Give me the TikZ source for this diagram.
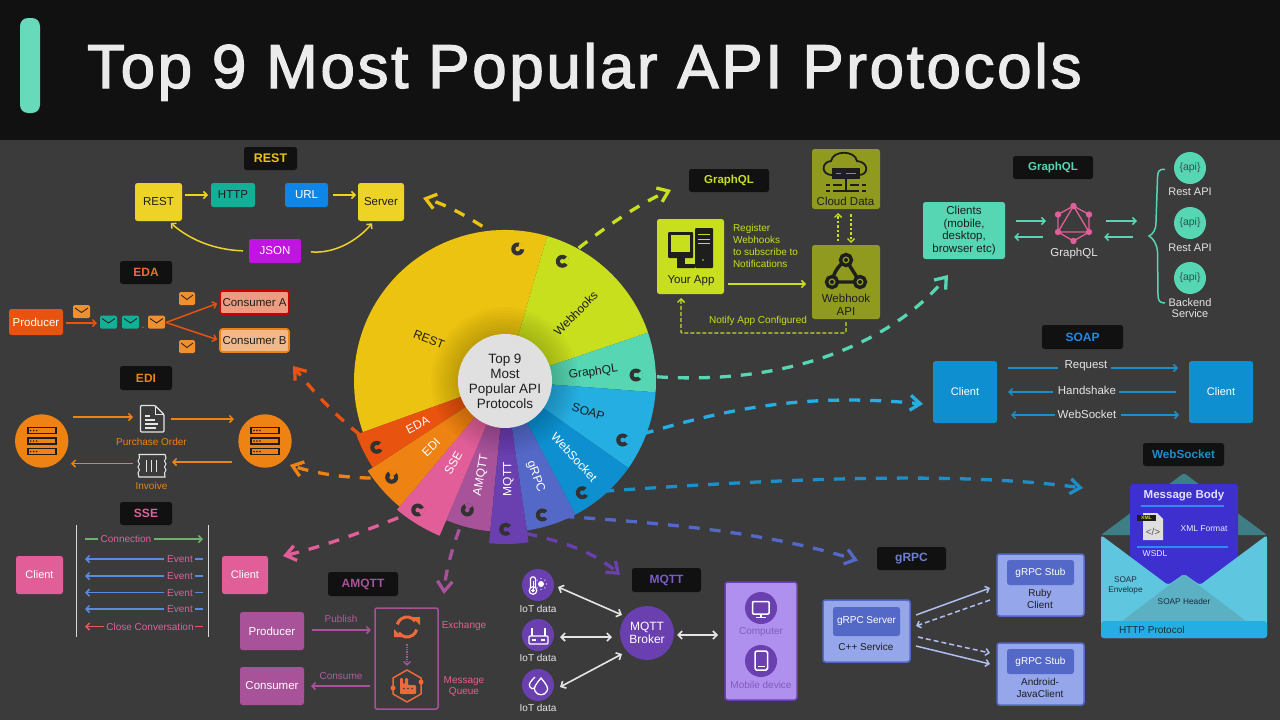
\documentclass[tikz,border=0pt]{standalone}
\usepackage{fontspec}
\setmainfont{Liberation Sans}
\newfontfamily\titlefont[FakeBold=2,LetterSpace=4.2]{Liberation Sans}
\usetikzlibrary{arrows.meta,calc}
\definecolor{bgc}{HTML}{3B3B3B}\definecolor{blk}{HTML}{111111}\definecolor{dk}{HTML}{1E1E1E}
\definecolor{restc}{HTML}{EDC311}\definecolor{restb}{HTML}{EDD325}
\definecolor{hookc}{HTML}{C8DF1E}\definecolor{hookd}{HTML}{8F9A1E}
\definecolor{gqlc}{HTML}{56D6B3}\definecolor{soapc}{HTML}{25AEE2}
\definecolor{wsc}{HTML}{0E90D0}\definecolor{wst}{HTML}{1E8EC8}
\definecolor{grpc}{HTML}{5468C8}\definecolor{grpl}{HTML}{95A6EA}\definecolor{grpa}{HTML}{B0BEF0}
\definecolor{mqc}{HTML}{6A3FB0}\definecolor{mql}{HTML}{B090EE}\definecolor{mqt}{HTML}{7B5BC8}
\definecolor{amc}{HTML}{A8529A}\definecolor{ssec}{HTML}{E25E98}\definecolor{sset}{HTML}{D8649A}
\definecolor{edic}{HTML}{EE8212}\definecolor{edac}{HTML}{E8530F}\definecolor{envc}{HTML}{EE9030}
\definecolor{tealc}{HTML}{12B096}\definecolor{amo}{HTML}{EE6A3A}
\definecolor{urlc}{HTML}{0E86E8}\definecolor{jsonc}{HTML}{C015E0}\definecolor{conac}{HTML}{EE9B80}\definecolor{conbc}{HTML}{F0B98C}
\definecolor{bluea}{HTML}{5A8CDD}\definecolor{greena}{HTML}{6DB36C}\definecolor{reda}{HTML}{E05A60}
\definecolor{envb}{HTML}{5EC6DE}\definecolor{envh}{HTML}{5CB0C4}\definecolor{envf}{HTML}{3E7F86}\definecolor{cardc}{HTML}{3D30CF}\definecolor{cardl}{HTML}{2E8CF0}\definecolor{envt}{HTML}{1C2C3C}
\newcommand\fs[2]{\fontsize{#1}{#2}\selectfont}
\newcommand\mybox[7]{\node[#1,minimum width={(#4-#2)*1pt},minimum height={(#5-#3)*1pt}] (#6) at ({(#2+#4)/2},{(#3+#5)/2}) {#7};}
\newcommand\envel[4]{\fill[#4,rounded corners=1.5pt] (#1,#2) rectangle ++(#3,13);\draw[dk,line width=.8pt] (#1+2,#2+3) -- (#1+#3/2,#2+7.5) -- (#1+#3-2,#2+3);}
\newcommand\sect[4]{\fill[#4] (0,0) -- (#1:#3pt) arc[start angle=#1,end angle=#2,radius=#3pt] -- cycle;}
\newcommand\pac[4]{\begin{scope}[shift={(#1,#2)},y=1pt]\fill[bgc!85!black] (0,0) circle (6.5pt);\fill[#4] (0,0) -- ({#3-38}:7pt) arc[start angle={#3-38},end angle={#3+38},radius=7pt] -- cycle;\fill[#4] (0,0) circle (2.3pt);\end{scope}}
\newcommand\rack[2]{\foreach \q in {0,10.5,21}{\draw[dk,line width=1.7pt,fill=edic] (#1-14,#2-13.5+\q) rectangle ++(28,6);\foreach \d in {3,6,9}{\fill[dk] (#1-14+\d,#2-10.5+\q) circle (.8pt);}}}
\tikzset{
 box/.style={rectangle,rounded corners=2.5pt,inner sep=0pt,outer sep=0pt,align=center},
 tagbox/.style={box,fill=blk,font=\fs{12}{14}\bfseries},
 txt/.style={inner sep=0pt,outer sep=0pt,align=center},
 wl/.style={txt,font=\fs{12}{13}},
 barb/.style={line width=1.5pt,-{Straight Barb[length=3.5pt,width=7pt]}},
 dbarb/.style={line width=1.6pt,{Straight Barb[length=4pt,width=8pt]}-{Straight Barb[length=4pt,width=8pt]}},
 dashgo/.style={draw=#1,line width=3.3pt,dash pattern=on 11pt off 10pt,-{Straight Barb[length=10pt,width=15pt]}},
 sectl/.style={txt,font=\fs{12}{13}},
}
\begin{document}
\begin{tikzpicture}[x=1pt,y=-1pt]
\useasboundingbox (0,0) rectangle (1280,720);
\fill[bgc] (0,0) rectangle (1280,720);
\fill[blk] (0,0) rectangle (1280,140);
\fill[gqlc!90!white,rounded corners=8pt] (20,18) rectangle (40,113);
\node[txt,anchor=base west,text=white!92!black,font=\titlefont\fs{62}{70}] (title) at (87,88) {Top 9 Most Popular API Protocols};

% anchors of the wheel's markers
\coordinate (pREST) at (517.7,249);\coordinate (pHOOK) at (562.3,261.3);\coordinate (pGQL) at (636,375);
\coordinate (pSOAP) at (622.7,440);\coordinate (pWS) at (582.3,492.7);\coordinate (pGR) at (542.3,515);
\coordinate (pMQ) at (505.7,529.3);\coordinate (pAM) at (467.3,510);\coordinate (pSSE) at (417.7,510);
\coordinate (pEDI) at (391.7,477.3);\coordinate (pEDA) at (376.7,447.3);

% ---------- REST panel
\mybox{tagbox,text=restc,font=\fs{12.5}{14}\bfseries}{244}{147}{297}{170}{tagrest}{REST}
\mybox{box,fill=restb,text=dk,font=\fs{11.5}{13}}{135}{183}{182}{221}{rest}{REST}
\mybox{box,fill=tealc,text=dk,font=\fs{11.5}{13}}{211}{183}{255}{207}{http}{HTTP}
\mybox{box,fill=urlc,text=white,font=\fs{11.5}{13}}{285}{183}{328}{207}{url}{URL}
\mybox{box,fill=restb,text=dk,font=\fs{11.5}{13}}{358}{183}{404}{221}{server}{Server}
\mybox{box,fill=jsonc,text=white,font=\fs{11.5}{13}}{249}{239}{301}{263}{json}{JSON}
\draw[barb,draw=restb,shorten <=3pt,shorten >=3pt] (rest.east |- http.west) -- (http.west);
\draw[barb,draw=restb,shorten <=5pt,shorten >=2pt] (url.east) -- (server.west |- url.east);
\draw[barb,draw=restb,shorten <=6pt,shorten >=3pt] (json.west) .. controls (215,250) and (190,240) .. ([xshift=10pt]rest.south);
\draw[barb,draw=restb,shorten <=10pt,shorten >=3pt] (json.east) .. controls (335,254) and (358,240) .. ([xshift=-7pt]server.south);

% ---------- EDA panel
\mybox{tagbox,text=edac!85!white}{120}{261}{172}{284}{tageda}{EDA}
\mybox{box,fill=edac,text=white,font=\fs{11.5}{13}}{9}{309}{63}{335}{producer}{Producer}
\mybox{box,draw=red!80!black,line width=1.6pt,fill=conac,text=dk,font=\fs{11.5}{13}}{220}{291}{289}{314}{consA}{Consumer A}
\mybox{box,draw=edic,line width=1.6pt,fill=conbc,text=dk,font=\fs{11.5}{13}}{220}{329}{289}{352}{consB}{Consumer B}
\envel{73}{305}{17}{envc}\envel{100}{315.500}{17}{tealc}\envel{122}{315.500}{17}{tealc}\envel{148}{315.500}{17}{envc}
\envel{179}{292}{16}{envc}\envel{179}{340}{16}{envc}
\coordinate (edaout) at (97,323);\coordinate (edafork) at (166,322.5);
\fill[envc] (143,327.300) circle (.6pt);
\draw[barb,draw=edac] ([xshift=3pt]producer.east |- edaout) -- (edaout);
\draw[barb,draw=edac,shorten >=3pt] (edafork) -- (consA.west);
\draw[barb,draw=edac,shorten >=3pt] (edafork) -- (consB.west);

% ---------- EDI panel
\mybox{tagbox,text=edic}{120}{366}{172}{390}{tagedi}{EDI}
\node[circle,fill=edic,minimum size=53.400pt,inner sep=0pt] (ediL) at (41.700,441) {};
\node[circle,fill=edic,minimum size=53.400pt,inner sep=0pt] (ediR) at (265,441) {};
\rack{41.7}{441}\rack{265}{441}
\node[inner sep=0pt,minimum width=24pt,minimum height=27pt] (doc) at (152,418.500) {};
\draw[white!90!black,line width=1.2pt,fill=bgc,rounded corners=1pt] (140.500,405.500) -- (155,405.500) -- (164,414.500) -- (164,432) -- (140.500,432) -- cycle;
\draw[white!90!black,line width=1pt] (155,405.500) -- (155,414.500) -- (164,414.500);
\draw[white!90!black,line width=1.2pt] (145,416) -- (150,416) (145,420) -- (155,420) (145,424) -- (158,424) (145,428) -- (156,428);
\node[inner sep=0pt,minimum width=28pt,minimum height=23pt] (inv) at (152,465.500) {};
\draw[white!90!black,line width=1.1pt,fill=bgc] (139,454.500) -- (165,454.500) -- (166,458) -- (164.500,461) -- (166,464) -- (164.500,467) -- (166,470) -- (164.500,473) -- (165,477) -- (139,477) -- (138,473) -- (139.500,470) -- (138,467) -- (139.500,464) -- (138,461) -- (139.500,458) -- cycle;
\draw[white!90!black,line width=1.3pt] (146.500,460) -- (146.500,472) (151.500,460) -- (151.500,472) (156.500,460) -- (156.500,472);
\node[txt,text=edic,font=\fs{10}{11}] (po) at (151.500,442) {Purchase Order};
\node[txt,text=edic,font=\fs{10}{11}] (invt) at (151.500,485.500) {Invoive};
\coordinate (e1a) at (73,417);\coordinate (e1b) at (133,417);\coordinate (e2a) at (171,419);\coordinate (e2b) at (234,419);
\coordinate (e3a) at (133,463.500);\coordinate (e3b) at (71,463.500);\coordinate (e4a) at (232,462);\coordinate (e4b) at (172,462);
\draw[barb,draw=edic] (e1a) -- (e1b);\draw[barb,draw=edic] (e2a) -- (e2b);\draw[barb,draw=edic] (e3a) -- (e3b);\draw[barb,draw=edic] (e4a) -- (e4b);

% ---------- SSE panel
\mybox{tagbox,text=sset}{120}{502}{172}{525}{tagsse}{SSE}
\mybox{box,fill=ssec,text=white,font=\fs{11}{13}}{16}{556}{63}{594}{sseL}{Client}
\mybox{box,fill=ssec,text=white,font=\fs{11}{13}}{222}{556}{268}{594}{sseR}{Client}
\coordinate (vl1) at (76.500,525);\coordinate (vl2) at (76.500,637);\coordinate (vr1) at (208.500,525);\coordinate (vr2) at (208.500,637);
\draw[white!85!black,line width=1pt] (vl1) -- (vl2);\draw[white!85!black,line width=1pt] (vr1) -- (vr2);
\node[txt,text=sset,font=\fs{10}{11}] (sconn) at (126,539) {Connection};
\coordinate (sc1) at (85,539);\coordinate (sc2) at (203,539);
\draw[line width=1.4pt,draw=greena] (sc1) -- ([xshift=-3pt]sconn.west);
\draw[barb,draw=greena] ([xshift=3pt]sconn.east) -- (sc2);
\foreach \nn/\yy in {a/559,b/576,c/592.7,d/609}{
 \node[txt,text=sset,font=\fs{10}{11}] (sev\nn) at (180,\yy) {Event};
 \coordinate (sl\nn) at (85,\yy);\coordinate (sr\nn) at (203,\yy);
 \draw[barb,draw=bluea,shorten <=3pt] (sev\nn.west) -- (sl\nn);
 \draw[line width=1.4pt,draw=bluea,shorten <=2pt] (sev\nn.east) -- (sr\nn);
}
\node[txt,text=sset,font=\fs{10}{11}] (sclose) at (150,626.500) {Close Conversation};
\coordinate (slc) at (85,626.500);\coordinate (src) at (203,626.500);
\draw[barb,draw=reda,shorten <=2pt] (sclose.west) -- (slc);
\draw[line width=1.4pt,draw=reda,shorten <=1pt] (sclose.east) -- (src);

% ---------- AMQTT panel
\mybox{tagbox,text=amc}{328}{572}{398}{596}{tagam}{AMQTT}
\mybox{box,fill=amc,text=white,font=\fs{11.5}{13}}{240}{612}{304}{650}{amprod}{Producer}
\mybox{box,fill=amc,text=white,font=\fs{11.5}{13}}{240}{667}{304}{705}{amcons}{Consumer}
\mybox{box,draw=amc,line width=1.5pt,rounded corners=2pt}{375}{608}{438}{709}{amframe}{}
\node[txt,text=amc!90!pink,font=\fs{10}{11}] (pubt) at (341,619) {Publish};
\node[txt,text=amc!90!pink,font=\fs{10}{11}] (const) at (341,676) {Consume};
\node[txt,text=ssec!85!amo,font=\fs{10}{11}] (exch) at (464,626) {Exchange};
\node[txt,text=ssec!85!amo,font=\fs{10}{11.500}] (mq) at (464,686.500) {Message\\Queue};
\coordinate (ap1) at (312,630);\coordinate (ap2) at (371,630);\coordinate (ac1) at (370,686);\coordinate (ac2) at (311,686);
\draw[barb,draw=amc] (ap1) -- (ap2);\draw[barb,draw=amc] (ac1) -- (ac2);
\begin{scope}[shift={(407,627)},y=1pt]
 \draw[amo,line width=3pt] (35:10pt) arc[start angle=35,end angle=165,radius=10pt];
 \draw[amo,line width=3pt] (215:10pt) arc[start angle=215,end angle=345,radius=10pt];
 \fill[amo] (5,10) -- (13,10) -- (13,2) -- cycle;
 \fill[amo] (-5,-10) -- (-13,-10) -- (-13,-2) -- cycle;
\end{scope}
\node[inner sep=0pt,minimum size=2pt] (exicon) at (407,643) {};
\node[inner sep=0pt,minimum size=2pt] (hexicon) at (407,667) {};
\draw[line width=1.4pt,draw=amc,densely dotted,-{Straight Barb[length=3.5pt,width=7pt]}] (exicon) -- (hexicon);
\draw[amo,line width=1.5pt,line join=round] (407,670) -- (421,678) -- (421,694) -- (407,702) -- (393,694) -- (393,678) -- cycle;
\fill[amo] (393,688) circle (2.5pt) (421,682) circle (2.5pt);
\fill[amo,rounded corners=1pt] (400,694) -- (400,678) -- (403,678) -- (403,684) -- (405,684) -- (405,678) -- (408,678) -- (408,685) -- (416,685) -- (416,694) -- cycle;
\fill[bgc] (404,688.500) circle (.9pt) (408,688.500) circle (.9pt) (412,688.500) circle (.9pt);

% ---------- MQTT panel
\mybox{tagbox,text=mqt}{632}{568}{701}{592}{tagmq}{MQTT}
\foreach \nn/\yy in {a/585,b/635,c/685}{\node[circle,fill=mqc,minimum size=32pt,inner sep=0pt] (iot\nn) at (538,\yy) {};}
\node[wl,text=white!90!black,font=\fs{10}{11}] (iota) at (538,609) {IoT data};
\node[wl,text=white!90!black,font=\fs{10}{11}] (iotb) at (538,658) {IoT data};
\node[wl,text=white!90!black,font=\fs{10}{11}] (iotc) at (538,708) {IoT data};
\node[circle,fill=mqc,minimum size=54pt,inner sep=0pt,text=white,align=center,font=\fs{12}{13}] (broker) at (647,633) {MQTT\\Broker};
\mybox{box,draw=mqc,line width=1.5pt,fill=mql}{725}{582}{797}{700}{devices}{}
\node[circle,fill=mqc,minimum size=32pt,inner sep=0pt] (compc) at (761,608) {};
\node[circle,fill=mqc,minimum size=32pt,inner sep=0pt] (mobc) at (761,661) {};
\node[txt,text=mqc!85!white,font=\fs{10}{11}] (compt) at (761,632) {Computer};
\node[txt,text=mqc!85!white,font=\fs{10}{11}] (mobt) at (761,684.500) {Mobile device};
\coordinate (m1) at (558,587);\coordinate (m2) at (622,615);\coordinate (m3) at (560,637);\coordinate (m4) at (612,637);
\coordinate (m5) at (560,687);\coordinate (m6) at (622,654);\coordinate (m7) at (677,635);\coordinate (m8) at (718,635);
\draw[dbarb,draw=white!90!black] (m1) -- (m2);\draw[dbarb,draw=white!90!black] (m3) -- (m4);
\draw[dbarb,draw=white!90!black] (m5) -- (m6);\draw[dbarb,draw=white!90!black] (m7) -- (m8);
% iot icons
\draw[white,line width=1.2pt,fill=mqc,rounded corners=1.5pt] (530.500,587) -- (530.500,577) -- (535.500,577) -- (535.500,587);
\draw[white,line width=1.2pt,fill=mqc] (533,590.500) circle (3.800pt);
\fill[white] (533,590.500) circle (1.800pt);\draw[white,line width=1pt] (533,581) -- (533,589);
\fill[white] (541,584) circle (3pt);
\foreach \a in {0,45,...,315}{\fill[white] ($(541,584)+(\a:5.5pt)$) circle (.7pt);}
\draw[white,line width=1.3pt,rounded corners=1pt] (529,636) rectangle (548,644);
\draw[white,line width=1.3pt] (532,636) -- (532,628) (545,636) -- (545,628);
\draw[white,line width=1.1pt] (532,640) -- (536,640) (541,640) -- (545,640);
\draw[white,line width=1.3pt] (541,678) .. controls (546,684) and (549,688) .. (547,691) .. controls (545,696) and (537,696) .. (535,691) .. controls (533,688) and (536,684) .. (541,678) -- cycle;
\draw[white,line width=1.3pt] (535,677) .. controls (531,681) and (528,684) .. (530,687) .. controls (531,689) and (533,689) .. (534.500,688);
\draw[white,line width=1.5pt,rounded corners=1pt] (752.500,601.500) rectangle (769,614);
\draw[white,line width=1.5pt] (761,614) -- (761,617) (756,617.500) -- (766,617.500);
\draw[white,line width=1.5pt,rounded corners=1.5pt] (755,651) rectangle (767.500,670);
\draw[white,line width=1pt] (758,666.500) -- (764.500,666.500);

% ---------- gRPC panel
\mybox{tagbox,text=grpc!85!white}{877}{547}{946}{570}{taggr}{gRPC}
\mybox{box,fill=grpl,draw=grpc,line width=1.5pt}{823}{600}{910}{662}{grS}{}
\mybox{box,fill=grpl,draw=grpc,line width=1.5pt}{997}{554}{1084}{616}{grA}{}
\mybox{box,fill=grpl,draw=grpc,line width=1.5pt}{997}{643}{1084}{705}{grB}{}
\mybox{box,fill=grpc,text=white,font=\fs{10}{12}}{833}{607}{900}{636}{grSi}{gRPC Server}
\mybox{box,fill=grpc,text=white,font=\fs{10}{12}}{1007}{560}{1074}{585}{grAi}{gRPC Stub}
\mybox{box,fill=grpc,text=white,font=\fs{10}{12}}{1007}{649}{1074}{674}{grBi}{gRPC Stub}
\node[txt,text=dk,font=\fs{10}{11}] (grSt) at (866,647) {C++ Service};
\node[txt,text=dk,font=\fs{10}{12}] (grAt) at (1040,599) {Ruby\\Client};
\node[txt,text=dk,font=\fs{10}{12}] (grBt) at (1040,688) {Android-\\JavaClient};
\coordinate (g1) at (916,615);\coordinate (g2) at (990,588);\coordinate (g3) at (990,600);\coordinate (g4) at (916,626);
\coordinate (g5) at (918,637);\coordinate (g6) at (990,653);\coordinate (g7) at (916,646);\coordinate (g8) at (990,664);
\draw[barb,draw=grpa] (g1) -- (g2);\draw[barb,draw=grpa,dash pattern=on 5pt off 3pt] (g3) -- (g4);
\draw[barb,draw=grpa,dash pattern=on 5pt off 3pt] (g5) -- (g6);\draw[barb,draw=grpa] (g7) -- (g8);

% ---------- Webhooks panel
\mybox{tagbox,text=hookc,font=\fs{11.5}{14}\bfseries}{689}{169}{769}{192}{taghook}{GraphQL}
\mybox{box,fill=hookc}{657}{219}{724}{294}{app}{}
\mybox{box,fill=hookd}{812}{149}{880}{209}{cloud}{}
\mybox{box,fill=hookd}{812}{245}{880}{319}{hook}{}
\node[txt,text=dk,font=\fs{11.5}{13}] (appt) at (691,281) {Your App};
\node[txt,text=dk,font=\fs{11.5}{13}] (cloudt) at (845.500,201) {Cloud Data};
\node[txt,text=dk,font=\fs{11.5}{12.500}] (hookt) at (846,305) {Webhook\\API};
\node[txt,anchor=north west,text=hookc,align=left,font=\fs{10}{12}] (regt) at (733,224) {Register\\Webhooks\\to subscribe to\\Notifications};
\node[txt,text=hookc,font=\fs{10}{11}] (notif) at (758,321) {Notify App Configured};
\draw[barb,draw=hookc,shorten <=4pt,shorten >=6pt] (app.east |- 0,284) -- (hook.west |- 0,284);
\draw[line width=1.4pt,draw=hookc,dash pattern=on 4pt off 2pt,-{Straight Barb[length=3.5pt,width=7pt]},shorten <=3pt,shorten >=4pt,rounded corners=1pt] (hook.south |- 0,319) -- ++(0,14) -| (app.south -| 681,0);
\draw[line width=1.4pt,draw=hookc,dash pattern=on 2.5pt off 2pt,-{Straight Barb[length=3.5pt,width=7pt]},shorten <=4pt,shorten >=4pt] (838,245) -- (838,209);
\draw[line width=1.4pt,draw=hookc,dash pattern=on 2.5pt off 2pt,-{Straight Barb[length=3.5pt,width=7pt]},shorten <=5pt,shorten >=2pt] (851,209) -- (851,245);
% computer icon
\fill[dk,rounded corners=1pt] (668,232) rectangle (693,258);\fill[hookc] (671,235) rectangle (690,252);
\fill[dk] (677,258) rectangle (685,264);\fill[dk,rounded corners=.6pt] (677,264) rectangle (695,268);
\fill[dk,rounded corners=1pt] (695,228) rectangle (713,268);
\draw[hookc,line width=1pt] (698,234.500) -- (710,234.500) (698,239) -- (710,239) (698,243.500) -- (710,243.500);
\fill[hookc] (703,260) circle (.8pt);
% cloud icon
\draw[dk,line width=1.8pt,line cap=round] (832,175) .. controls (821,175) and (821,162) .. (831,161) .. controls (833,150) and (855,150) .. (857,161) .. controls (869,162) and (869,175) .. (859,175);
\fill[dk] (832,168) rectangle (860,179);\draw[hookd,line width=1.2pt] (836,173.500) -- (841,173.500) (846,173.500) -- (856,173.500);
\draw[dk,line width=1.6pt] (846,179) -- (846,190) (826,185) -- (830,185) (833,185) -- (842,185) (850,185) -- (859,185) (862,185) -- (866,185) (826,191) -- (830,191) (833,191) -- (859,191) (862,191) -- (866,191);
% webhook icon
\draw[dk,line width=3.4pt] (846,260) -- (860,282) -- (832,282);
\draw[dk,line width=3.4pt] (846,260) .. controls (838,266) and (834,272) .. (832,282);
\foreach \px/\py in {846/260,832/282,860/282}{\draw[dk,line width=3.4pt,fill=hookd] (\px,\py) circle (5.5pt);\fill[dk] (\px,\py) circle (2pt);}

% ---------- GraphQL panel
\mybox{tagbox,text=gqlc,font=\fs{11.5}{14}\bfseries}{1013}{156}{1093}{179}{taggql}{GraphQL}
\mybox{box,fill=gqlc,text=dk,font=\fs{11.5}{12.800}}{923}{202}{1005}{259}{clients}{Clients\\(mobile,\\desktop,\\browser etc)}
\node[inner sep=0pt,minimum width=32pt,minimum height=36pt] (gqlogo) at (1073.500,223.500) {};
\node[txt,text=white!90!black,font=\fs{11.5}{13}] (gqlt) at (1074,254) {GraphQL};
\draw[ssec,line width=1.3pt,line join=round] (1073.500,206) -- (1089,214.500) -- (1089,232) -- (1073.500,241) -- (1058,232) -- (1058,214.500) -- cycle (1073.500,206) -- (1058,232) -- (1089,232) -- cycle;
\foreach \px/\py in {1073.5/206,1089/214.5,1089/232,1073.5/241,1058/232,1058/214.5}{\fill[ssec] (\px,\py) circle (3.200pt);}
\coordinate (q1) at (1016,221);\coordinate (q2) at (1046,221);\coordinate (q3) at (1043,237);\coordinate (q4) at (1014,237);
\coordinate (q5) at (1106,221);\coordinate (q6) at (1137,221);\coordinate (q7) at (1133,237);\coordinate (q8) at (1104,237);
\draw[barb,draw=gqlc] (q1) -- (q2);\draw[barb,draw=gqlc] (q3) -- (q4);\draw[barb,draw=gqlc] (q5) -- (q6);\draw[barb,draw=gqlc] (q7) -- (q8);
\draw[gqlc,line width=1.5pt] (1165,169.300) .. controls (1158,169) and (1158,172) .. (1157.500,178) -- (1156,222) .. controls (1156,230) and (1153,234) .. (1149,236) .. controls (1153,238) and (1157,244) .. (1157.500,252) -- (1158,295) .. controls (1158,301) and (1160,303) .. (1165,303);
\foreach \nn/\yy in {a/168,b/223,c/278}{\node[circle,fill=gqlc,minimum size=32pt,inner sep=0pt,text=dk!70!gqlc,font=\fs{10.5}{12}] (api\nn) at (1190,\yy) {\{api\}};}
\node[txt,text=white!90!black,font=\fs{11}{12}] (apta) at (1190,192) {Rest API};
\node[txt,text=white!90!black,font=\fs{11}{12}] (aptb) at (1190,247.500) {Rest API};
\node[txt,text=white!90!black,font=\fs{11}{11.500}] (aptc) at (1190,308) {Backend\\Service};

% ---------- SOAP panel
\mybox{tagbox,text=soapc!80!blue}{1042}{325}{1123}{349}{tagsoap}{SOAP}
\mybox{box,fill=wsc,text=white,font=\fs{11}{13}}{933}{361}{997}{423}{soapL}{Client}
\mybox{box,fill=wsc,text=white,font=\fs{11}{13}}{1189}{361}{1253}{423}{soapR}{Client}
\node[txt,text=white!90!black,font=\fs{11.5}{12}] (sreq) at (1086,366) {Request};
\node[txt,text=white!90!black,font=\fs{11.5}{12}] (shand) at (1087,390.500) {Handshake};
\node[txt,text=white!90!black,font=\fs{11.5}{12}] (swebs) at (1087,414.500) {WebSocket};
\coordinate (r1) at (1008,368);\coordinate (r2) at (1058,368);\coordinate (r3) at (1111,368);\coordinate (r4) at (1178,368);
\coordinate (h1) at (1053,392);\coordinate (h2) at (1008,392);\coordinate (h3) at (1119,392);\coordinate (h4) at (1176,392);
\coordinate (w1) at (1055,415);\coordinate (w2) at (1011,415);\coordinate (w3) at (1121,415);\coordinate (w4) at (1179,415);
\draw[line width=1.4pt,draw=wst] (r1) -- (r2);\draw[barb,draw=wst] (r3) -- (r4);
\draw[barb,draw=wst] (h1) -- (h2);\draw[line width=1.4pt,draw=wst] (h3) -- (h4);
\draw[barb,draw=wst] (w1) -- (w2);\draw[barb,draw=wst] (w3) -- (w4);

% ---------- WebSocket panel
\mybox{tagbox,text=wst,font=\fs{11.7}{14}\bfseries}{1143}{443}{1224}{466}{tagws}{WebSocket}
\fill[envf,rounded corners=2pt] (1184,473) -- (1267,535) -- (1101,535) -- cycle;
\fill[cardc,rounded corners=3pt] (1130,484) rectangle (1238,595);
\fill[envb,rounded corners=3pt] (1101,535) -- (1168,585) -- (1184,574) -- (1200,585) -- (1267,535) -- (1267,638) -- (1101,638) -- cycle;
\fill[envh,rounded corners=2pt] (1184,574) -- (1246,621) -- (1122,621) -- cycle;
\fill[soapc,rounded corners=3pt] (1101,621) -- (1267,621) -- (1267,638) -- (1101,638) -- cycle;
\node[txt,text=white!88!blue,font=\fs{11.5}{14}\bfseries] (msgb) at (1184,496) {Message Body};
\coordinate (wb1) at (1141,506);\coordinate (wb2) at (1224,506);\coordinate (wb3) at (1137,547);\coordinate (wb4) at (1228,547);
\draw[line width=1.6pt,draw=cardl] (wb1) -- (wb2);\draw[line width=1.6pt,draw=cardl] (wb3) -- (wb4);
\fill[white!75!gray] (1143,513) -- (1157,513) -- (1163,519) -- (1163,540) -- (1143,540) -- cycle;
\fill[dk] (1137,515) rectangle (1156,521);
\node[txt,text=hookc,font=\fs{5}{6}\bfseries] (xmltag) at (1146.500,518) {XML};
\node[txt,text=gray!70!black,font=\fs{10}{11}] (xmlsym) at (1153,532) {</>};
\node[txt,text=white!92!blue,font=\fs{8.5}{10}] (xmlf) at (1204,529) {XML Format};
\node[txt,text=white!92!blue,font=\fs{8.5}{10}] (wsdl) at (1155,554) {WSDL};
\node[txt,text=envt,font=\fs{8.2}{9.200}] (senv) at (1125.500,585.500) {SOAP\\Envelope};
\node[txt,text=envt,font=\fs{8.3}{10}] (shead) at (1184,602) {SOAP Header};
\node[txt,anchor=west,text=envt,font=\fs{10}{12}] (httpp) at (1119,630) {HTTP Protocol};

% ---------- dashed leaders (drawn beneath the wheel)
\coordinate (tipws) at (1083,488);\coordinate (tipam) at (444,594);
\draw[dashgo=restc] (pREST) .. controls (480,225) and (455,207) .. ([shift={(19,-4)}]server.east);
\draw[dashgo=hookc] (pHOOK) .. controls (600,230) and (640,203) .. ([shift={(-18,9.5)}]taghook.west);
\draw[dashgo=gqlc] (pGQL) .. controls (780,390) and (890,345) .. ([shift={(-16,16)}]clients.south);
\draw[dashgo=soapc] (pSOAP) .. controls (720,410) and (800,392) .. ([shift={(-10,12)}]soapL.west);
\draw[dashgo=wst] (pWS) .. controls (760,480) and (950,470) .. (tipws);
\draw[dashgo=grpc] (pGR) .. controls (650,522) and (760,530) .. ([shift={(-19,2)}]taggr.west);
\draw[dashgo=mqc] (pMQ) .. controls (550,538) and (590,548) .. ([shift={(-12,-5)}]tagmq.west);
\draw[dashgo=amc] (pAM) .. controls (458,530) and (446,565) .. (tipam);
\draw[dashgo=ssec] (pSSE) .. controls (380,525) and (330,545) .. ([shift={(15,0)}]sseR.north east);
\draw[dashgo=edic] (pEDI) .. controls (360,480) and (320,475) .. ([shift={(-2,24)}]ediR.east);
\draw[dashgo=edac] (pEDA) .. controls (345,425) and (320,400) .. ([shift={(4,14)}]consB.south east);

% ---------- wheel
\begin{scope}[shift={(505,381)},y=1pt]
\sect{73.8}{199.8}{151}{restc}
\sect{18.7}{73.8}{151}{hookc}
\sect{-4.3}{18.7}{151}{gqlc}
\sect{-35.2}{-4.3}{151}{soapc}
\sect{-62.2}{-35.2}{151}{wsc}
\sect{-81.7}{-62.2}{151}{grpc}
\sect{-112.9}{-95.6}{151}{amc}
\sect{-95.6}{-81.7}{163}{mqc}
\sect{230}{247.1}{168}{ssec}
\sect{213.2}{230}{164}{edic}
\sect{199.8}{213.2}{158}{edac}
\foreach \r in {50,53,...,74}{\fill[black,opacity=.018] (0,0) circle (\r pt);}
\end{scope}
\pac{517.7}{249}{35}{restc}\pac{562.3}{261.3}{5}{hookc}\pac{636}{375}{0}{gqlc}\pac{622.7}{440}{0}{soapc}
\pac{582.3}{492.7}{10}{wsc}\pac{542.3}{515}{0}{grpc}\pac{505.7}{529.3}{-5}{mqc}\pac{467.3}{510}{75}{amc}
\pac{417.7}{510}{-20}{ssec}\pac{391.7}{477.3}{80}{edic}\pac{376.7}{447.3}{10}{edac}
\node[sectl,rotate=-21,text=dk] (sREST) at (429,339.300) {REST};
\node[sectl,rotate=45,text=dk] (sHOOK) at (575.700,313.300) {Webhooks};
\node[sectl,rotate=8,text=dk] (sGQL) at (593.300,372.300) {GraphQL};
\node[sectl,rotate=-17,text=dk] (sSOAP) at (588.300,411.700) {SOAP};
\node[sectl,rotate=-47,text=white] (sWS) at (574.300,457.300) {WebSocket};
\node[sectl,rotate=-70,text=white] (sGR) at (535.700,476.700) {gRPC};
\node[sectl,rotate=90,text=white] (sMQ) at (508.300,479.300) {MQTT};
\node[sectl,rotate=80,text=white] (sAM) at (481.300,475) {AMQTT};
\node[sectl,rotate=60,text=white] (sSSE) at (453.300,463.300) {SSE};
\node[sectl,rotate=45,text=white] (sEDI) at (431,447.300) {EDI};
\node[sectl,rotate=27,text=white] (sEDA) at (417.700,425) {EDA};
\node[circle,fill=white!88!black,minimum size=94pt,inner sep=0pt,text=dk,align=center,font=\fs{13.5}{15}] (hub) at (505,381) {Top 9\\Most\\Popular API\\Protocols};
\end{tikzpicture}
\end{document}
